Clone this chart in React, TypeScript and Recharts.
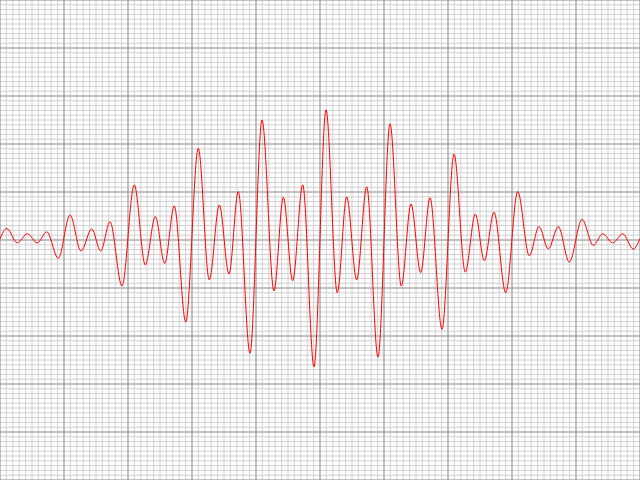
import { LineChart, Line, XAxis, YAxis, ReferenceLine } from "recharts";

// time axis (divisions) and signal amplitude, read at each peak / trough
const times = [
  0, 0.105, 0.27, 0.427, 0.583, 0.73, 0.911, 1.094, 1.266, 1.433, 1.573, 1.719, 1.906, 2.098, 2.27, 2.427,
  2.573, 2.723, 2.902, 3.098, 3.27, 3.427, 3.578, 3.723, 3.906, 4.094, 4.281, 4.427, 4.573, 4.73, 4.906,
  5.094, 5.27, 5.417, 5.573, 5.73, 5.906, 6.094, 6.27, 6.422, 6.573, 6.719, 6.906, 7.094, 7.27, 7.427,
  7.567, 7.719, 7.902, 8.089, 8.27, 8.422, 8.567, 8.723, 8.895, 9.094, 9.27, 9.417, 9.573, 9.73, 9.895, 10,
];
const amplitude = [
  0.02, 0.24, -0.06, 0.13, -0.06, 0.17, -0.38, 0.52, -0.23, 0.23, -0.23, 0.38, -0.96, 1.15, -0.52, 0.49,
  -0.49, 0.71, -1.71, 1.91, -0.83, 0.73, -0.71, 1.01, -2.36, 2.5, -1.06, 0.89, -0.85, 1.15, -2.64,
  2.71, -1.1, 0.9, -0.83, 1.11, -2.44, 2.42, -0.96, 0.75, -0.68, 0.88, -1.86, 1.79, -0.67, 0.54,
  -0.43, 0.58, -1.1, 1.01, -0.33, 0.28, -0.19, 0.28, -0.46, 0.43, -0.11, 0.13, -0.06, 0.13, -0.19, 0.03,
];

// graticule: 10 major divisions each way, 10 minor per major
const majorX = [0, 1, 2, 3, 4, 5, 6, 7, 8, 9, 10];
const majorY = [-5, -4, -3, -2, -1, 0, 1, 2, 3, 4, 5];
const minorX = Array.from({ length: 101 }, (_, i) => i / 10);
const minorY = Array.from({ length: 101 }, (_, i) => -5 + i / 10);

const data = times.map((t, i) => ({ t, v: amplitude[i] }));

const App = () => {
  return (
    <div style={{ position: "absolute", left: 0, top: 0, width: 640, height: 480, background: "#fff" }}>
      <LineChart width={640} height={480} data={data} margin={{ top: 0, right: 0, bottom: 0, left: 0 }}>
        <XAxis type="number" dataKey="t" domain={[0, 10]} hide />
        <YAxis type="number" domain={[-5, 5]} hide />
        {minorX.map((x) => (
          <ReferenceLine key={"mx" + x} x={x} stroke="#d0d0d0" strokeWidth={1} />
        ))}
        {minorY.map((y) => (
          <ReferenceLine key={"my" + y} y={y} stroke="#d0d0d0" strokeWidth={1} />
        ))}
        {majorX.map((x) => (
          <ReferenceLine key={"Mx" + x} x={x} stroke="#9a9a9a" strokeWidth={1} />
        ))}
        {majorY.map((y) => (
          <ReferenceLine key={"My" + y} y={y} stroke="#9a9a9a" strokeWidth={1} />
        ))}
        <Line type="monotone" dataKey="v" stroke="#ff0000" strokeWidth={1} dot={false} activeDot={false} isAnimationActive={false} />
      </LineChart>
    </div>
  );
};

export default App;
